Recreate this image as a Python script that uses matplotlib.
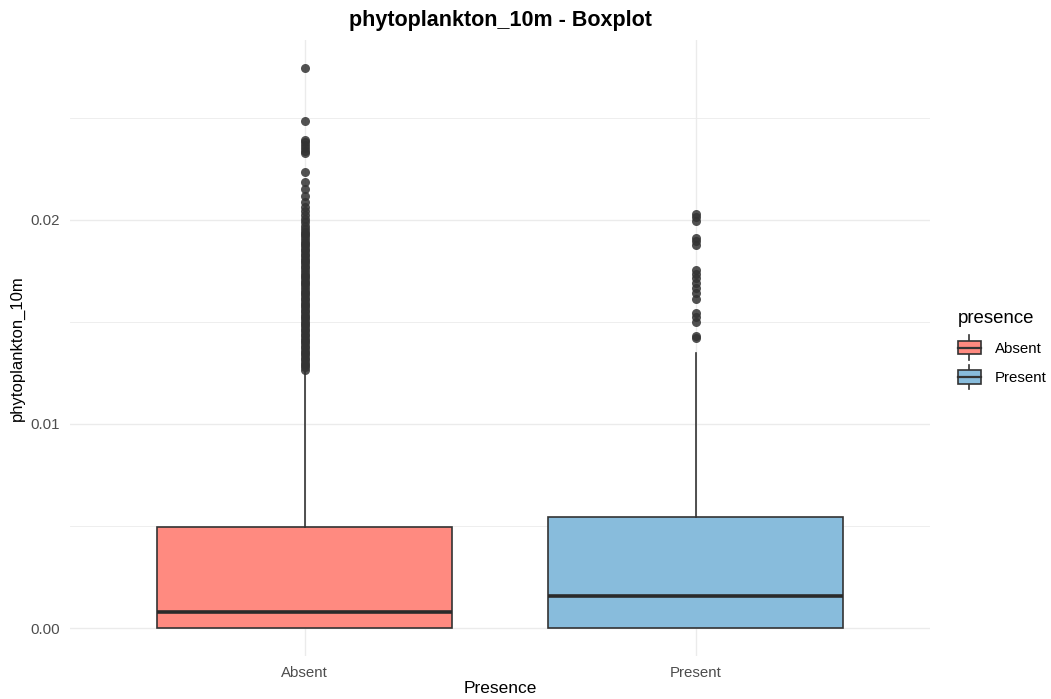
import matplotlib

matplotlib.use("Agg")

import matplotlib.pyplot as plt
from matplotlib.legend_handler import HandlerBase
from matplotlib.lines import Line2D
from matplotlib.patches import Rectangle

plt.rcParams["font.family"] = ["Liberation Sans", "DejaVu Sans"]

# Summary statistics per group
groups = ["Absent", "Present"]
q1 = [0.0, 0.0]
medians = [0.00078, 0.00157]
q3 = [0.00495, 0.00544]
whisker_low = [0.0, 0.0]
whisker_high = [0.01255, 0.01345]

absent_outliers = [
    0.02745, 0.02485, 0.02392, 0.02378, 0.02365, 0.02352, 0.02338, 0.02325,
    0.02235, 0.02185, 0.02152, 0.02118, 0.02088, 0.02062, 0.02041, 0.02022,
    0.02004, 0.01987, 0.01971, 0.01956, 0.01942, 0.01931, 0.01918, 0.01906,
    0.01893, 0.01882, 0.01869, 0.01857, 0.01846, 0.01833, 0.01821, 0.01809,
    0.01797, 0.01786, 0.01772, 0.01761, 0.01749, 0.01736, 0.01725, 0.01713,
    0.01701, 0.01689, 0.01678, 0.01665, 0.01653, 0.01642, 0.01630, 0.01618,
    0.01606, 0.01594, 0.01583, 0.01571, 0.01559, 0.01547, 0.01535, 0.01524,
    0.01512, 0.01500, 0.01488, 0.01477, 0.01465, 0.01453, 0.01441, 0.01430,
    0.01418, 0.01406, 0.01394, 0.01383, 0.01371, 0.01359, 0.01347, 0.01336,
    0.01324, 0.01312, 0.01300, 0.01289, 0.01277, 0.01265,
]
present_outliers = [
    0.02030, 0.02012, 0.01995, 0.01910, 0.01895, 0.01878, 0.01755, 0.01735,
    0.01712, 0.01688, 0.01665, 0.01640, 0.01612, 0.01545, 0.01522, 0.01497,
    0.01430, 0.01422,
]

fill_colors = ["#FF8A80", "#88BCDC"]
edge_color = "#333333"

stats = []
for i, name in enumerate(groups):
    stats.append({
        "label": name,
        "q1": q1[i],
        "med": medians[i],
        "q3": q3[i],
        "whislo": whisker_low[i],
        "whishi": whisker_high[i],
        "fliers": [absent_outliers, present_outliers][i],
    })

fig = plt.figure(figsize=(10.51, 6.99), dpi=100)
ax = fig.add_axes([0.0666, 0.0615, 0.8184, 0.8813])

positions = [1, 2]
bp = ax.bxp(
    stats,
    positions=positions,
    widths=0.755,
    patch_artist=True,
    showcaps=False,
    boxprops=dict(edgecolor=edge_color, linewidth=1.2),
    medianprops=dict(color="#2a2a2a", linewidth=2.6),
    whiskerprops=dict(color=edge_color, linewidth=1.2),
    flierprops=dict(marker="o", markersize=6.5, markerfacecolor="#333333",
                    markeredgecolor="none", alpha=0.85),
    zorder=3,
)
for patch, col in zip(bp["boxes"], fill_colors):
    patch.set_facecolor(col)

ax.set_xlim(0.4, 2.6)
ax.set_ylim(-0.00137, 0.0288)
ax.set_xticks(positions)
ax.set_xticklabels(groups)
ax.set_yticks([0.0, 0.01, 0.02])
ax.set_yticklabels(["0.00", "0.01", "0.02"])
ax.set_yticks([0.005, 0.015, 0.025], minor=True)

ax.grid(True, which="major", color="#EBEBEB", linewidth=1.0, zorder=0)
ax.grid(True, which="minor", axis="y", color="#EBEBEB", linewidth=0.6, zorder=0)
ax.set_axisbelow(True)
for sp in ax.spines.values():
    sp.set_visible(False)
ax.tick_params(axis="both", which="both", length=0, colors="#4D4D4D",
               labelsize=10.8)
ax.tick_params(axis="x", pad=7)
ax.tick_params(axis="y", pad=7)

ax.set_xlabel("Presence", fontsize=12.5, labelpad=1)
ax.set_ylabel("phytoplankton_10m", fontsize=12, labelpad=4)
ax.set_title("phytoplankton_10m - Boxplot", fontsize=15.5, fontweight="bold",
             pad=10)


class BoxKeyHandler(HandlerBase):
    def create_artists(self, legend, orig_handle, xdescent, ydescent,
                       width, height, fontsize, trans):
        cx = width / 2 - xdescent
        bw = width * 0.95
        bh = height * 1.0
        y0 = height / 2 - ydescent - bh / 2
        rect = Rectangle((cx - bw / 2, y0), bw, bh,
                         facecolor=orig_handle.get_facecolor(),
                         edgecolor=edge_color, linewidth=1.2, transform=trans)
        ymid = y0 + bh / 2
        med = Line2D([cx - bw / 2, cx + bw / 2], [ymid, ymid],
                     color=edge_color, linewidth=1.6, transform=trans)
        top = Line2D([cx, cx], [y0 + bh, y0 + bh + 4], color=edge_color,
                     linewidth=1.2, transform=trans)
        bot = Line2D([cx, cx], [y0 - 4, y0], color=edge_color,
                     linewidth=1.2, transform=trans)
        return [top, bot, rect, med]


handles = [Rectangle((0, 0), 1, 1, facecolor=c) for c in fill_colors]
leg = fig.legend(
    handles, groups, title="presence",
    handler_map={Rectangle: BoxKeyHandler()},
    loc="center left", bbox_to_anchor=(0.898, 0.503),
    frameon=False, fontsize=10.8, title_fontsize=13.4,
    handlelength=1.6, handleheight=1.0, labelspacing=0.95, handletextpad=0.9,
)
leg._legend_box.align = "left"

fig.savefig("out.png", dpi=100)
